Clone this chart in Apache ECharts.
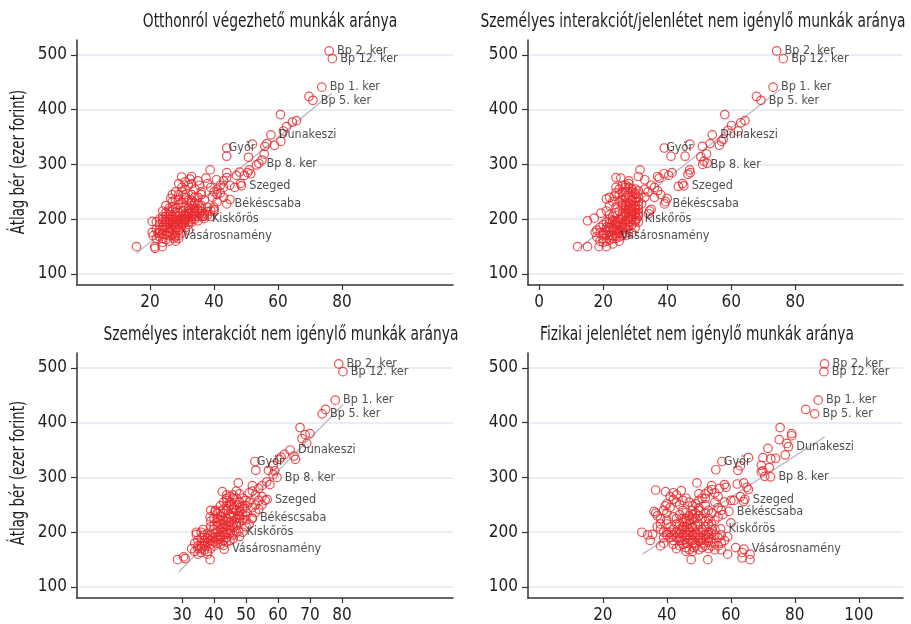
<!DOCTYPE html>
<html><head><meta charset="utf-8">
<script src="https://cdn.jsdelivr.net/npm/echarts@6/dist/echarts.min.js"></script>
<style>html,body{margin:0;padding:0;background:#fff}#c{width:911px;height:624px}</style>
</head><body><div id="c"></div>
<script>
const panelTitles = ['Otthonról végezhető munkák aránya','Személyes interakciót/jelenlétet nem igénylő munkák aránya','Személyes interakciót nem igénylő munkák aránya','Fizikai jelenlétet nem igénylő munkák aránya'];
const yAxisTitle = 'Átlag bér (ezer forint)';
const yTicks = [100,200,300,400,500];
const p1XTicks = [20,40,60,80];
const p2XTicks = [0,20,40,60,80];
const p3XTicks = [30,40,50,60,70,80];
const p4XTicks = [20,40,60,80,100];
const labelNames = ['Bp 2. ker','Bp 12. ker','Bp 1. ker','Bp 5. ker','Dunakeszi','Győr','Bp 8. ker','Szeged','Békéscsaba','Kiskőrös','Vásárosnamény'];
const p1Labeled = [[76,507],[77,493],[73.7,441],[70.9,417],[57.8,354],[44,330],[54,302],[48.6,261],[44,228],[36.9,201],[27.8,170]];
const p2Labeled = [[74.2,507],[76.3,493],[73.1,441],[69.3,417],[54.1,354],[39.1,330],[51.1,300],[45.2,261],[39.2,228],[30.5,201],[22.9,170]];
const p3Labeled = [[79,507],[80.3,493],[77.9,441],[73.8,416],[63.8,350],[52.8,329],[59.7,300],[56.6,260],[51.9,226],[47.7,201],[43.2,169]];
const p4Labeled = [[89.3,507],[89.1,493],[87.3,441],[86.2,416],[78,356],[57.2,329],[72.4,301],[64.4,260],[59.4,238],[56.8,206],[64.1,169]];
const p1Fit = [[15.8,138],[76.8,430]];
const p2Fit = [[12.2,146],[75.5,438]];
const p3Fit = [[28.9,127],[80.4,433]];
const p4Fit = [[32.4,160],[89.3,374]];
const p1Points = [[69.7,424],[60.8,391],[65.8,380],[64.5,377],[62.7,369],[61.7,361],[60.9,342],[58.9,335],[55.9,333],[52,337],[56.5,338],[44,315],[50.8,313],[55.7,319],[55,308],[53.3,299],[51,290],[50.5,285],[51.5,283],[48,286],[44,285],[44,276],[38.8,290],[40.8,272],[37.5,275],[47,280],[49.5,280],[48.3,265],[46.5,258],[45,236],[36.5,205],[15.8,150],[21.5,150],[21.6,147],[23.8,150],[20.7,196],[20.7,176],
[29.9,277],[33,278],[32.5,273],[31,254],[30,258],[32,262],[34,255],[35.5,262],[38,265],[39,258],[40,250],[41,255],[42,248],[43,258],[45,262],[36,245],[34,240],[37,235],[39.5,240],[41,232],[43,240],[38,222],[40,218],[35,218],[33,225],[31,240],[29,245],[28,236],[27,232],[26.5,238],[29,227],[30,215],[32,210],[34,205],[35.5,210],[36,215],[33,200],[31,205],[28,212],[26,208],[25,212],[24,205],[27,200],[29,198],[31,195],[30,188],[28,185],[26,190],[25,185],[24,180],[23,190],[22.5,175],[23,168],[24,165],[25,172],[26,175],[27,180],[28,175],[29,180],[30,175],[27.5,165],[26,160],[24,158],[22,165],[21,170],[25,195],[26,200],[27,205],[28,195],[29,205],[30,200],[31,210],[32,215],[33,212],[34,220],[35,228],[36,225],[31,222],[30,230],[29,235],[32,235],[33,245],[28,250],[30,250],[27,245],[29,265],[31,268],[33,265],[35,270],[26,220],[25,225],[24,215],[23,200],[22,195],[31,185],[32,190],[33,195],[34,200],[35,197],[36,206],[37,210],[38,214],[40,215],[39,205],[32,180],[29,170],[28,160],[25,163],[27,190],[26,183],[24,195],[28,220],[30,222],[33,230],[35,240],[36,250],[34,230],[28,205],[27,215],[25,200],[23,180],[26,170],[30,192],[31,198],[32,202],[33,206],[35,215],[24,173],[28,190],[29,192],
[24,185],[25,190],[26,195],[27,195],[28,200],[29,185],[30,195],[31,200],[32,195],[33,218],[34,215],[35,205],[26,178],[27,172],[28,168],[29,165],[23,175],[22,182],[24,200],[25,205],[26,215],[27,222],[29,212],[30,205],[32,220],[33,235],[31,245],[34,210],[36,220],[37,205],[38,208],[39,215],[40,222],[41,245],[42,262],[43,270]];
const p2Points = [[67.9,424],[58,391],[64.3,380],[63,376],[60.1,371],[59,362],[62.2,361],[56.3,335],[53.4,338],[57,342],[57.5,346],[47.1,337],[51,333],[41.2,315],[45.6,315],[50.5,314],[52.3,319],[51.5,306],[52.5,302],[47,290],[47.2,285],[46.5,282],[41.5,285],[40.5,280],[39,283],[37.5,275],[37,278],[31.5,290],[31,278],[33,272],[44.8,265],[43.5,260],[39.5,232],[40,238],[34.5,215],[35,218],[34.2,210],[12,150],[15.1,150],[18.7,150],[15.1,197],[17.2,202],[19.3,211],[21,237],[22,240],[23.5,242],[24,276],[25.5,275],[17.5,176],[18,168],
[26,262],[27,258],[28,270],[29,255],[30,248],[31,252],[33,255],[34,250],[35,262],[36,258],[37,252],[38,245],[36,240],[33,240],[30,245],[28,248],[26,250],[25,245],[24,248],[27,240],[29,235],[31,232],[32,228],[30,225],[28,222],[26,228],[25,232],[27,218],[29,215],[31,212],[30,208],[28,205],[26,210],[24,212],[23,205],[22,200],[21,195],[20,190],[22,185],[23,180],[24,188],[25,195],[26,200],[27,198],[28,195],[29,200],[30,198],[31,205],[29,190],[27,185],[25,180],[24,175],[23,170],[21,172],[20,165],[19,160],[20,158],[22,162],[24,165],[26,170],[25,168],[27,175],[28,180],[26,185],[24,195],[23,198],[22,208],[21,215],[24,222],[25,215],[27,208],[28,212],[29,220],[30,218],[31,225],[26,235],[28,230],[30,238],[29,242],[25,255],[24,258],[27,262],[28,265],[22,225],[23,232],[19,185],[18,180],[20,175],[21,180],[26,192],[28,188],[30,185],[29,175],[27,170],[25,160],[23,155],[21,150],[31,195],[29,210],[27,225],
[22,178],[23,185],[24,192],[25,200],[26,205],[27,212],[28,218],[29,225],[30,232],[31,240],[26,180],[27,190],[28,200],[29,205],[30,212],[21,185],[22,192],[23,196],[24,182],[25,188],[26,225],[27,230],[28,240],[29,250],[30,255],[31,218],[31,208],[30,195],[24,170],[25,175],[22,170],[23,165],[21,160],[20,170],[19,175],[28,258],[27,250]];
const p3Points = [[74.9,424],[66.9,391],[70,380],[68.5,378],[67.5,371],[69,362],[65,339],[65.5,333],[61,337],[62,342],[60.5,333],[58.5,322],[59,312],[53.1,313],[57,313],[58.5,305],[56.5,292],[57.5,287],[55,285],[54,280],[52,285],[47.6,290],[42.6,274],[56,258],[55,265],[28.6,150],[30.5,155],[31,152],[38.8,150],[34.5,200],[34.5,196],[36.6,205],[38.8,228],[40.3,237],[40.5,240],
[44,262],[45,255],[46,268],[47,275],[48,270],[49,262],[50,258],[51,272],[52,275],[53,268],[50,248],[49,242],[48,238],[46,245],[45,250],[44,240],[43,235],[42,248],[43,255],[44,258],[45,232],[46,228],[47,225],[48,218],[49,222],[50,230],[52,245],[53,250],[54,258],[47,212],[46,215],[45,210],[44,220],[43,215],[42,222],[41,218],[42,205],[43,200],[44,205],[45,198],[46,195],[47,200],[41,200],[40,205],[39,210],[38,198],[37,195],[36,190],[35,185],[36,180],[37,175],[38,180],[39,185],[40,190],[41,192],[42,188],[43,185],[44,190],[40,175],[41,180],[39,170],[38,165],[37,168],[36,170],[35,175],[34,180],[33,170],[34,165],[35,160],[36,163],[38,160],[42,178],[43,176],[44,182],[45,185],[46,188],[48,192],[49,200],[50,210],[51,215],[48,230],[46,235],[44,225],[42,230],[40,225],[39,220],[41,212],[43,208],[45,218],[47,250],[48,255],[46,262],[44,268],[50,238],[52,225],[54,242],[55,250],[53,236],[37,185],[38,190],[39,195],[40,198],[42,195],[36,200],[39,240],[41,235],
[39,178],[40,182],[41,186],[42,192],[43,196],[44,200],[45,204],[46,208],[47,218],[48,225],[49,232],[50,222],[44,212],[43,222],[42,215],[41,225],[40,212],[38,188],[37,180],[36,175],[35,170],[45,228],[46,242],[47,240],[48,245],[44,248],[43,242],[42,238],[45,265],[47,262],[51,255],[49,248]];
const p4Points = [[83.4,424],[75.4,391],[79,380],[79,376],[75.1,369],[77.5,362],[77,341],[71.6,353],[65.5,336],[70,336],[72.5,334],[74,335],[69.5,322],[70,312],[72,318],[69.5,310],[55.3,314],[62.2,313],[63,321],[70.6,302],[49.4,290],[54,285],[56.5,280],[58,287],[58.5,282],[62,288],[64,290],[65,282],[65.5,278],[64,256],[63,265],[61,258],[57.5,232],[60,217],[59,192],[63.5,163],[63.5,153],[66,160],[66,150],[32.2,200],[34,195],[35.5,196],[34.8,185],[36.5,277],[39.6,274],[42,272],[44.5,276],[47.6,150],[52.8,150],[46,165],[48.5,172],[53,170],[57,168],[59,160],[61.5,172],
[36,238],[36.5,235],[37,230],[38,225],[39,240],[39.5,248],[40,252],[41,245],[42,260],[43,255],[44,250],[45,258],[46,262],[47,255],[48,248],[49,252],[50,258],[51,262],[52,270],[53,275],[54,278],[55,272],[56,265],[50,245],[48,240],[46,236],[44,232],[42,228],[40,222],[38,215],[37,210],[38,205],[39,200],[40,195],[41,190],[42,185],[39,180],[38,175],[40,215],[41,210],[42,205],[43,200],[44,198],[45,205],[46,210],[47,215],[48,208],[49,212],[50,205],[51,200],[52,195],[53,190],[54,198],[55,205],[53,215],[52,220],[51,225],[50,230],[49,225],[47,222],[45,218],[43,215],[44,190],[45,185],[46,180],[47,188],[48,195],[49,190],[50,185],[51,180],[52,175],[53,182],[54,188],[55,180],[56,190],[57,195],[55,222],[56,228],[54,235],[53,240],[52,250],[47,200],[46,195],[45,178],[44,175],[43,170],[42,178],[41,200],[46,225],[48,232],[50,215],[51,190],[49,175],[48,180],[47,168],[56,245],[58,255],[60,258],[57,240],[55,255],[40,235],[41,265],[43,268],[45,240],[50,270],[52,262],
[44,205],[45,210],[46,200],[47,205],[48,210],[49,200],[50,195],[51,205],[52,210],[53,200],[46,190],[47,195],[48,185],[49,180],[50,190],[51,185],[52,188],[53,195],[54,205],[55,195],[45,195],[44,185],[43,190],[46,220],[47,230],[48,225],[49,235],[50,240],[52,235],[53,225],[54,215],[45,225],[44,215],[43,225],[51,172],[50,168],[48,165],[46,172],[55,168],[54,175],[57,180],[58,185],[56,175],[42,195],[40,200],[39,190]];

const FF = "'Liberation Sans Narrow','DejaVu Sans Condensed','Roboto Condensed','Noto Sans',sans-serif";
const RED = '#e8272b';
const grids = [
  {left:77, top:40, width:376, height:245},
  {left:528, top:40, width:375, height:245},
  {left:77, top:353, width:376, height:245},
  {left:528, top:353, width:375, height:245}
];
const xRange = [[-2.8,114.7],[-3.5,113.7],[-2.8,114.7],[-3.4,113.8]];
const xTicksAll = [p1XTicks,p2XTicks,p3XTicks,p4XTicks];
const pointsAll = [p1Points,p2Points,p3Points,p4Points];
const labeledAll = [p1Labeled,p2Labeled,p3Labeled,p4Labeled];
const fitAll = [p1Fit,p2Fit,p3Fit,p4Fit];
const titlePos = [[270,22],[693,22],[281,335],[697,335]];
const yNamePos = [[19,162],[19,473]];

const xAxes = [], yAxes = [], series = [], graphics = [];
for (let i=0;i<4;i++){
  xAxes.push({gridIndex:i,type:'value',min:xRange[i][0],max:xRange[i][1],
    axisLine:{show:true,onZero:false,lineStyle:{color:'#333',width:1.5}},
    axisTick:{show:true,length:5,customValues:xTicksAll[i],lineStyle:{color:'#333',width:1.2}},
    axisLabel:{customValues:xTicksAll[i],fontSize:17,color:'#1e1e1e',margin:9,fontFamily:FF},
    splitLine:{show:false}});
  yAxes.push({gridIndex:i,type:'value',min:80,max:527,
    axisLine:{show:true,onZero:false,lineStyle:{color:'#333',width:1.5}},
    axisTick:{show:true,length:6,customValues:yTicks,lineStyle:{color:'#333',width:1.2}},
    axisLabel:{customValues:yTicks,fontSize:17,color:'#1e1e1e',margin:10,fontFamily:FF},
    splitLine:{show:true,lineStyle:{color:'#e1e8f0',width:1.5}}});
  series.push({type:'line',xAxisIndex:i,yAxisIndex:i,data:fitAll[i],symbol:'none',silent:true,
    lineStyle:{color:'#bcc0c7',width:1.5},z:1});
  series.push({type:'scatter',xAxisIndex:i,yAxisIndex:i,data:pointsAll[i],symbol:'circle',symbolSize:8.5,
    itemStyle:{color:'rgba(0,0,0,0)',borderColor:RED,borderWidth:1.2},z:2});
  series.push({type:'scatter',xAxisIndex:i,yAxisIndex:i,symbol:'circle',symbolSize:8.5,
    data:labeledAll[i].map((v,k)=>({value:v,name:labelNames[k],label:labelNames[k]==='Győr'?{distance:-3}:undefined})),
    itemStyle:{color:'rgba(0,0,0,0)',borderColor:RED,borderWidth:1.2},
    label:{show:true,position:'right',distance:3,formatter:'{b}',fontSize:12.5,color:'#222',fontFamily:FF},z:3});
  graphics.push({type:'text',x:titlePos[i][0],y:titlePos[i][1],scaleX:0.81,
    style:{text:panelTitles[i],fill:'#1e1e1e',font:"19px "+FF,textAlign:'center',textVerticalAlign:'middle',align:'center',verticalAlign:'middle'}});
}
for (let j=0;j<2;j++){
  graphics.push({type:'text',x:yNamePos[j][0],y:yNamePos[j][1],rotation:Math.PI/2,scaleX:0.78,
    style:{text:yAxisTitle,fill:'#1e1e1e',font:"19px "+FF,textAlign:'center',textVerticalAlign:'middle',align:'center',verticalAlign:'middle'}});
}
const chart = echarts.init(document.getElementById('c'));
chart.setOption({animation:false,backgroundColor:'#fff',grid:grids,xAxis:xAxes,yAxis:yAxes,series:series,graphic:graphics});
</script></body></html>
